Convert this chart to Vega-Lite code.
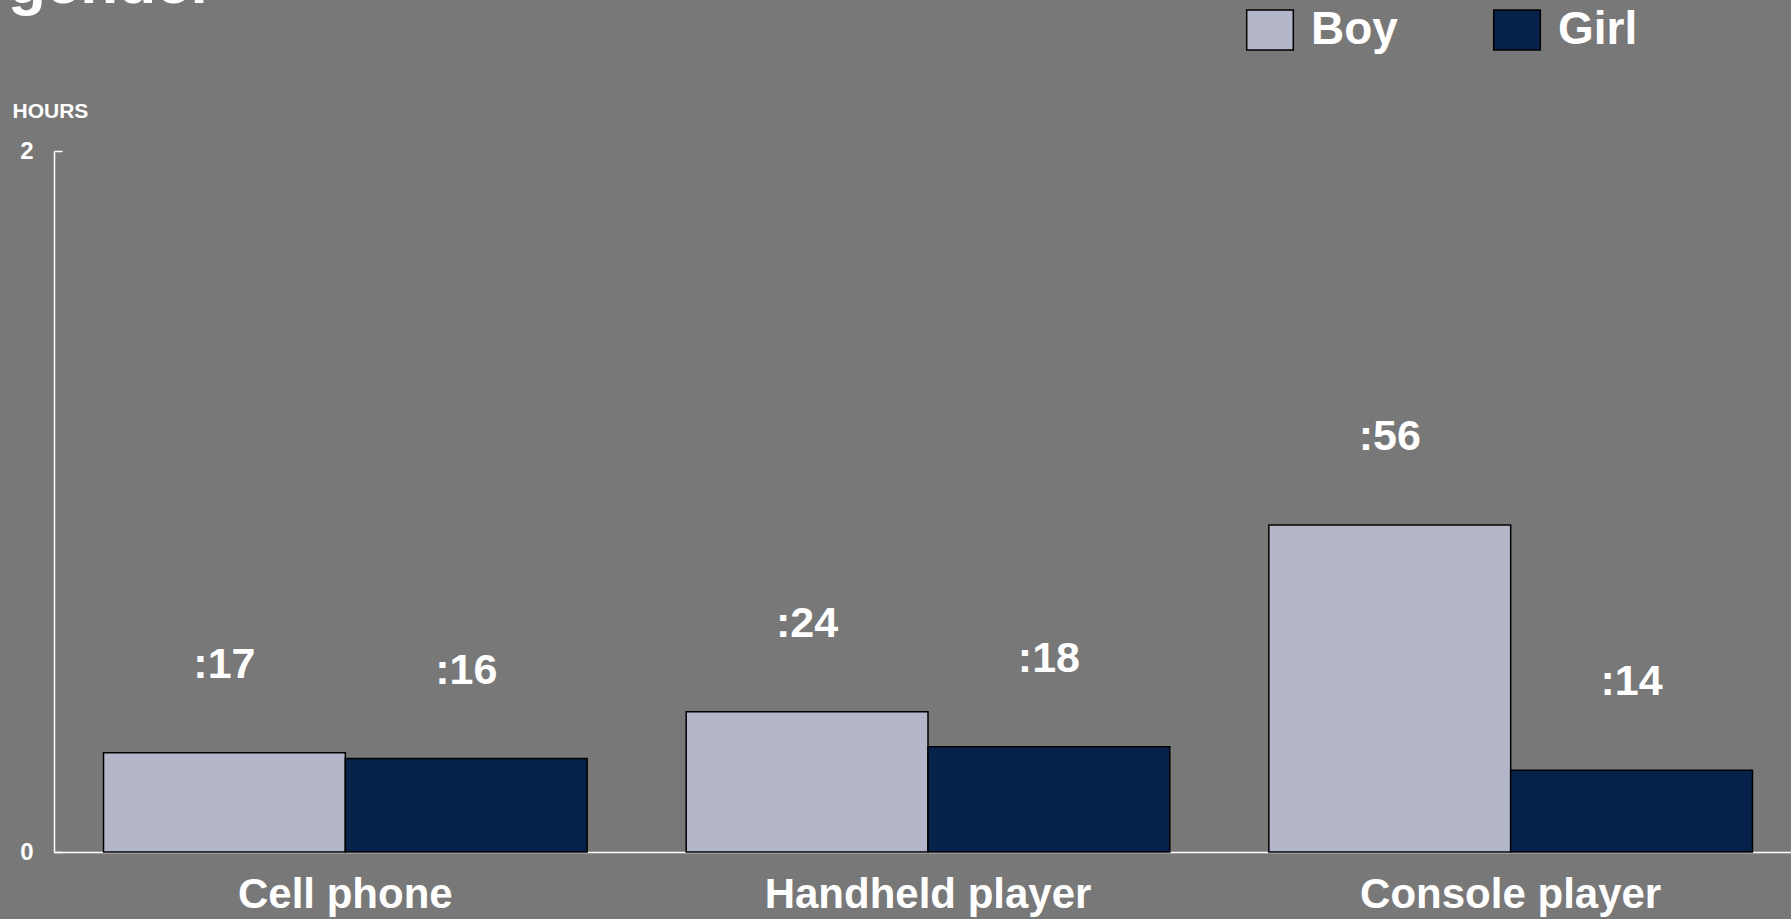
{
  "$schema": "https://vega.github.io/schema/vega-lite/v6.json",
  "width": 1737,
  "height": 701,
  "autosize": {"type": "none"},
  "padding": {"left": 54, "top": 151, "right": 0, "bottom": 67},
  "background": "#787878",
  "config": {"view": {"stroke": null}, "font": "Liberation Sans"},
  "title": {
    "text": ["Time spent playing video games, by platform and", "gender"],
    "anchor": "start",
    "frame": "group",
    "dx": -46,
    "baseline": "bottom",
    "offset": -71,
    "fontSize": 62,
    "fontWeight": "bold",
    "color": "white",
    "font": "Liberation Sans"
  },
  "data": {
    "values": [
      {"device": "Cell phone", "gender": "Boy", "hours": 0.2833, "label": ":17"},
      {"device": "Cell phone", "gender": "Girl", "hours": 0.2667, "label": ":16"},
      {"device": "Handheld player", "gender": "Boy", "hours": 0.4, "label": ":24"},
      {"device": "Handheld player", "gender": "Girl", "hours": 0.3, "label": ":18"},
      {"device": "Console player", "gender": "Boy", "hours": 0.9333, "label": ":56"},
      {"device": "Console player", "gender": "Girl", "hours": 0.2333, "label": ":14"}
    ]
  },
  "encoding": {
    "x": {
      "field": "device",
      "type": "nominal",
      "sort": ["Cell phone", "Handheld player", "Console player"],
      "scale": {"range": [0, 1748], "paddingInner": 0.17, "paddingOuter": 0.085},
      "axis": {
        "title": null,
        "labelAngle": 0,
        "labelFontSize": 42,
        "labelFontWeight": "bold",
        "labelColor": "white",
        "labelFont": "Liberation Sans",
        "labelLimit": 1000,
        "ticks": false,
        "tickSize": 0,
        "labelPadding": 22,
        "domainColor": "white",
        "domainWidth": 1.5,
        "grid": false
      }
    },
    "xOffset": {
      "field": "gender",
      "type": "nominal",
      "sort": ["Boy", "Girl"],
      "scale": {"paddingInner": 0, "paddingOuter": 0}
    },
    "y": {
      "field": "hours",
      "type": "quantitative",
      "scale": {"domain": [0, 2]},
      "axis": {
        "values": [0, 1, 2],
        "format": "d",
        "grid": false,
        "labelFontSize": 24,
        "labelFontWeight": "bold",
        "labelColor": "white",
        "labelFont": "Liberation Sans",
        "tickColor": "white",
        "tickSize": -8,
        "tickWidth": 1.5,
        "domainColor": "white",
        "domainWidth": 1.5,
        "labelPadding": 29,
        "title": "HOURS",
        "titleAngle": 0,
        "titleX": -42,
        "titleY": -34,
        "titleAlign": "left",
        "titleBaseline": "alphabetic",
        "titleFontSize": 21,
        "titleFontWeight": "bold",
        "titleColor": "white",
        "titleFont": "Liberation Sans"
      }
    }
  },
  "layer": [
    {
      "mark": {"type": "bar", "stroke": "black", "strokeWidth": 1.5},
      "encoding": {
        "color": {
          "field": "gender",
          "type": "nominal",
          "scale": {"domain": ["Boy", "Girl"], "range": ["#B4B7C9", "#06214A"]},
          "legend": {
            "orient": "none",
            "legendX": 1193,
            "legendY": -144,
            "direction": "horizontal",
            "title": null,
            "padding": 0,
            "symbolType": "M-1.165,-1H1.165V1H-1.165Z",
            "symbolSize": 1600,
            "symbolStrokeColor": "black",
            "symbolStrokeWidth": 1.5,
            "symbolOpacity": 1,
            "labelFontSize": 46,
            "labelFontWeight": "bold",
            "labelFont": "Liberation Sans",
            "labelColor": "white",
            "labelOffset": 18,
            "columnPadding": 92
          }
        }
      }
    },
    {
      "mark": {
        "type": "text",
        "dy": -88,
        "baseline": "middle",
        "fontSize": 43,
        "fontWeight": "bold",
        "font": "Liberation Sans",
        "color": "white"
      },
      "encoding": {"text": {"field": "label"}}
    }
  ]
}
